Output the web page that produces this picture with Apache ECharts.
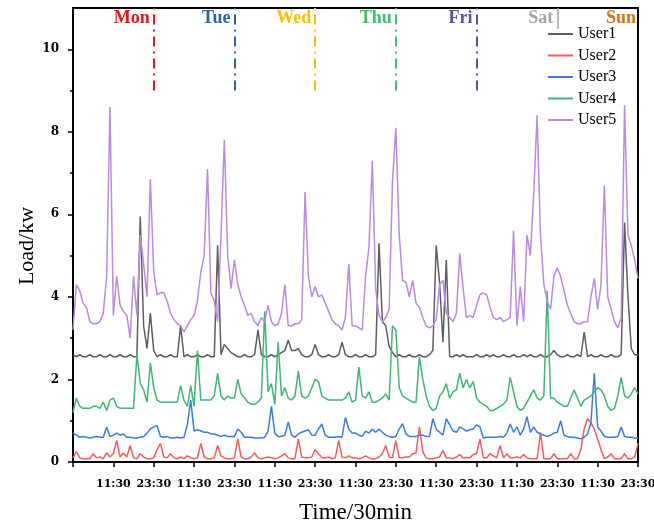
<!DOCTYPE html>
<html>
<head>
<meta charset="utf-8">
<script src="https://cdn.jsdelivr.net/npm/echarts@6/dist/echarts.min.js"></script>
<style>
  html, body { margin: 0; padding: 0; background: #fff; }
  #loadChart { width: 654px; height: 524px; }
</style>
</head>
<body>
<div id="loadChart"></div>
<script>
// hourly load in kW, index 0 = 23:30 the night before Monday, last = Sunday 23:30
const user1 = [2.6, 2.55, 2.6, 2.55, 2.55, 2.6, 2.55, 2.55, 2.6, 2.55, 2.55, 2.6, 2.55, 2.55, 2.6, 2.55, 2.55, 2.6, 2.55,
  2.55, 5.95, 3.3, 2.75, 3.6, 2.7,
  2.55, 2.6, 2.55, 2.55, 2.6, 2.55, 2.55,
  3.3,
  2.55, 2.6, 2.55, 2.55, 2.6, 2.55, 2.55, 2.6, 2.55, 2.55,
  5.25, 2.6, 2.85, 2.75, 2.65,
  2.6, 2.55, 2.55, 2.6, 2.55, 2.55, 2.6,
  3.2, 2.6,
  2.55, 2.55, 2.6, 2.55,
  2.6, 2.65, 2.7, 2.95, 2.7, 2.7, 2.75, 2.6,
  2.55, 2.55, 2.6, 2.85, 2.6,
  2.55, 2.55, 2.6, 2.55, 2.55, 2.6,
  2.9, 2.6,
  2.55, 2.55, 2.6, 2.55, 2.55, 2.6, 2.55, 2.55,
  2.6, 5.3, 3.4, 3.3, 2.8, 2.65,
  2.55, 2.6, 2.55, 2.55, 2.6, 2.55, 2.55, 2.6, 2.55, 2.55, 2.6,
  2.7, 5.25, 4.35, 2.9, 4.9,
  2.55, 2.55, 2.6, 2.55, 2.6, 2.55, 2.55, 2.55, 2.6, 2.55, 2.55, 2.6, 2.55, 2.6, 2.55, 2.55,
  2.6, 2.55, 2.55, 2.6, 2.55, 2.55, 2.6, 2.55, 2.6, 2.55, 2.55, 2.6, 2.55, 2.55, 2.6,
  2.7,
  2.6, 2.55, 2.55, 2.6, 2.55, 2.55, 2.6, 2.55,
  3.15,
  2.55, 2.6, 2.55, 2.55, 2.6, 2.55, 2.55, 2.6, 2.55, 2.55, 2.6,
  5.8, 4.05, 2.75, 2.6, 2.6]
const user2 = [0.1, 0.25, 0.1, 0.08, 0.08, 0.08, 0.2, 0.1, 0.12, 0.08, 0.22, 0.12, 0.2,
  0.52, 0.12, 0.22, 0.12, 0.4, 0.1, 0.08, 0.2, 0.12, 0.08, 0.08, 0.1,
  0.3, 0.45, 0.12, 0.1, 0.2, 0.1, 0.08, 0.12, 0.08, 0.15, 0.1, 0.08,
  0.1, 0.45, 0.12, 0.08, 0.08, 0.1, 0.4, 0.15, 0.1, 0.08, 0.08, 0.1,
  0.56, 0.12, 0.08, 0.08, 0.12, 0.22, 0.1, 0.08, 0.1, 0.12, 0.1, 0.08,
  0.1, 0.15, 0.2, 0.1, 0.08, 0.08, 0.56, 0.12, 0.1, 0.1, 0.12, 0.3,
  0.2, 0.1, 0.1, 0.12, 0.08, 0.1, 0.52, 0.12, 0.1, 0.15, 0.1, 0.1,
  0.08, 0.1, 0.15, 0.1, 0.08, 0.08, 0.12, 0.2, 0.4, 0.12, 0.1, 0.52,
  0.1, 0.1, 0.12, 0.12, 0.2, 0.22, 0.85, 0.25, 0.1, 0.08, 0.08, 0.1,
  0.12, 0.28, 0.1, 0.1, 0.08, 0.12, 0.18, 0.1, 0.1, 0.1, 0.18, 0.2,
  0.56, 0.1, 0.1, 0.2, 0.15, 0.1, 0.4, 0.1, 0.2, 0.1, 0.1, 0.12,
  0.1, 0.18, 0.1, 0.08, 0.08, 0.08, 0.72, 0.08, 0.08, 0.08, 0.2, 0.08,
  0.08, 0.08, 0.08, 0.2, 0.08, 0.08, 0.3, 0.8, 1.05, 0.95, 0.8, 0.55,
  0.3, 0.08, 0.12, 0.2, 0.08, 0.08, 0.08, 0.2, 0.08, 0.08, 0.12, 0.45]
const user3 = [0.7, 0.65, 0.6, 0.62, 0.6, 0.58, 0.6, 0.62, 0.6, 0.6, 0.85, 0.62, 0.65,
  0.7, 0.65, 0.68, 0.6, 0.6, 0.58, 0.58, 0.6, 0.62, 0.7, 0.8, 0.85,
  0.88, 0.62, 0.6, 0.62, 0.58, 0.58, 0.6, 0.58, 0.6, 0.9, 1.5, 0.75,
  0.78, 0.75, 0.72, 0.72, 0.68, 0.68, 0.65, 0.62, 0.65, 0.62, 0.62, 0.62,
  0.8, 0.72, 0.6, 0.6, 0.6, 0.58, 0.58, 0.58, 0.6, 0.75, 1.35, 0.7,
  0.62, 0.62, 0.65, 0.97, 0.65, 0.6, 0.68, 0.72, 0.75, 0.78, 0.65, 0.65,
  0.8, 0.92, 0.65, 0.6, 0.6, 0.6, 0.62, 0.6, 1.08, 0.8, 0.7, 0.7,
  0.65, 0.62, 0.75, 0.7, 0.8, 0.72, 0.8, 0.72, 0.65, 0.62, 0.6, 0.62,
  0.8, 0.93, 0.68, 0.62, 0.62, 0.62, 0.65, 0.65, 0.62, 0.62, 1.05, 0.8,
  0.72, 0.65, 1.05, 0.9, 0.75, 0.72, 0.85, 0.8, 0.75, 0.78, 0.8, 0.9,
  0.85, 0.58, 0.6, 0.6, 0.6, 0.6, 0.62, 0.6, 0.7, 0.92, 0.72, 0.85,
  0.65, 0.8, 1.1, 0.72, 0.85, 0.72, 0.68, 0.65, 0.62, 0.65, 0.7, 0.72,
  1.0, 0.65, 0.62, 0.6, 0.6, 0.58, 0.56, 0.6, 0.68, 0.95, 2.15, 0.85,
  0.75, 0.62, 0.6, 0.6, 0.6, 0.62, 0.85, 0.62, 0.6, 0.6, 0.58, 0.58]
const user4 = [1.2, 1.55, 1.35, 1.3, 1.3, 1.3, 1.35, 1.35, 1.3, 1.45, 1.25, 1.5, 1.55,
  1.35, 1.3, 1.3, 1.3, 1.3, 1.3, 2.6, 1.9, 1.75, 1.45, 2.4, 1.8,
  1.5, 1.45, 1.45, 1.45, 1.45, 1.45, 1.45, 1.85, 1.5, 1.35, 1.85, 1.35,
  2.7, 1.5, 1.5, 1.5, 1.5, 1.6, 2.15, 1.6, 1.5, 1.6, 1.55, 1.55,
  2.0, 1.65, 1.55, 1.45, 1.4, 1.4, 1.45, 1.55, 3.65, 1.7, 1.9, 1.4,
  2.9, 1.6, 1.8, 1.55, 1.5, 1.6, 2.2, 1.6, 1.55, 1.6, 1.8, 2.0,
  1.95, 1.6, 1.55, 1.5, 1.5, 1.5, 1.5, 1.5, 1.55, 1.7, 1.45, 1.5,
  2.3, 1.6, 1.55, 1.7, 1.45, 1.45, 1.5, 1.55, 1.65, 1.5, 3.3, 3.2,
  1.8, 1.6, 1.55, 1.5, 1.45, 1.45, 2.55, 2.0, 1.6, 1.35, 1.25, 1.3,
  1.6, 1.7, 1.9, 1.55, 1.7, 1.75, 2.15, 1.8, 2.0, 1.8, 1.95, 1.55,
  1.45, 1.4, 1.35, 1.25, 1.25, 1.3, 1.35, 1.4, 1.5, 2.05, 1.7, 1.35,
  1.25, 1.3, 1.45, 1.6, 1.75, 1.55, 1.5, 1.6, 4.15, 1.55, 1.55, 1.45,
  1.4, 1.35, 1.35, 1.55, 1.75, 1.55, 1.35, 1.5, 1.55, 1.6, 1.7, 1.8,
  1.75, 1.6, 1.35, 1.25, 1.3, 1.6, 2.05, 1.6, 1.55, 1.65, 1.8, 1.65]
const user5 = [3.2, 4.3, 4.15, 3.85, 3.75, 3.4, 3.35, 3.35, 3.4, 3.6, 4.5, 8.6, 3.55,
  4.5, 3.8, 3.65, 3.55, 3.0, 4.5, 3.55, 5.5, 4.8, 4.0, 6.85, 4.6,
  4.05, 4.1, 4.1, 3.9, 3.6, 3.45, 3.35, 3.3, 3.15, 3.3, 3.45, 3.55,
  3.9, 4.6, 5.0, 7.1, 4.1, 3.9, 3.4, 5.5, 7.8, 5.0, 4.2, 4.9,
  4.3, 4.0, 3.8, 3.55, 3.6, 3.4, 3.3, 3.5, 3.4, 3.8, 3.4, 3.3,
  3.35, 3.6, 4.3, 3.3, 3.3, 3.35, 3.35, 3.45, 6.55, 4.5, 4.0, 4.25,
  4.0, 4.05, 3.85, 3.65, 3.45, 3.35, 3.3, 3.2, 3.5, 4.8, 3.3, 3.3,
  3.25, 3.2, 4.5, 5.2, 7.3, 4.2, 3.55, 3.4, 3.5, 3.7, 6.8, 8.1,
  5.5, 4.4, 4.35, 4.0, 4.4, 3.85, 3.75, 3.5, 3.3, 3.25, 3.3, 3.45,
  4.3, 4.4, 3.6, 3.5, 3.4, 3.6, 5.05, 4.2, 3.5, 3.55, 3.5, 3.8,
  4.05, 4.1, 4.05, 3.75, 3.5, 3.45, 3.5, 3.4, 3.45, 3.5, 5.6, 3.3,
  4.25, 3.4, 5.5, 5.0, 6.5, 8.4, 5.5, 4.3, 3.9, 3.7, 4.5, 4.7,
  4.5, 4.15, 3.8, 3.6, 3.4, 3.35, 3.35, 3.4, 3.4, 4.0, 4.45, 3.7,
  4.3, 6.7, 4.0, 3.7, 3.4, 3.25, 3.5, 8.65, 5.5, 5.25, 4.9, 4.45]

const userNames = ['User1', 'User2', 'User3', 'User4', 'User5']
const yMajorTicks = [0, 2, 4, 6, 8, 10]
const yMinorTicks = [1, 3, 5, 7, 9]
const dayNames = ['Mon', 'Tue', 'Wed', 'Thu', 'Fri', 'Sat', 'Sun']
const dayEndHours = [24, 48, 72, 96, 120, 144, 168]

const loads = [user1, user2, user3, user4, user5]
const colors = ['#5e5e5e', '#ff5a5a', '#3a7cec', '#3fb874', '#bb8ae6']
const dayColors = ['#f01414', '#2f62a6', '#ffbf00', '#3cc26c', '#55559e', '#a6a6a6', '#e5700e']
const serif = '"Liberation Serif", "Times New Roman", serif'
const tickFont = '"DejaVu Serif", serif'

var myChart = echarts.init(document.getElementById('loadChart'))

// dash-dot day separators Mon..Fri, a short solid one for Sat, none for Sun (right border)
let dayLines = []
let dayLabels = []
dayNames.forEach((d, i) => {
  const h = dayEndHours[i]
  if (i < 5) {
    dayLines.push([
      { coord: [h, 9], lineStyle: { color: dayColors[i], type: [10, 5, 2, 5], width: 2 } },
      { coord: [h, 11] }
    ])
  } else if (i === 5) {
    dayLines.push([
      { coord: [h, 10.5], lineStyle: { color: dayColors[i], type: 'solid', width: 1.5 } },
      { coord: [h, 11] }
    ])
  }
  dayLabels.push({
    coord: [h, 10.76],
    symbol: 'circle',
    symbolSize: 0,
    label: {
      show: true,
      formatter: d,
      position: 'left',
      distance: i === 6 ? 2 : 4,
      color: dayColors[i],
      fontFamily: serif,
      fontWeight: 'bold',
      fontSize: 18
    }
  })
})

const series = userNames.map((name, k) => {
  let s = {
    name: name,
    type: 'line',
    data: loads[k].map((v, i) => [i, v]),
    symbol: 'none',
    lineStyle: { width: 1.5, color: colors[k] },
    itemStyle: { color: colors[k] },
    animation: false
  }
  if (k === 0) {
    s.markLine = { silent: true, symbol: ['none', 'none'], label: { show: false }, data: dayLines, animation: false }
    s.markPoint = { silent: true, data: dayLabels, animation: false }
  }
  return s
})

myChart.setOption({
  animation: false,
  grid: {
    left: 73,
    right: 16,
    top: 8,
    bottom: 62,
    show: true,
    borderColor: '#000',
    borderWidth: 2,
    outerBoundsMode: 'none'
  },
  legend: {
    data: userNames,
    orient: 'vertical',
    left: 548,
    top: 26,
    padding: 0,
    icon: 'path://M0,0 L25,0 L25,2 L0,2 Z',
    itemWidth: 25,
    itemHeight: 12,
    itemGap: 5.5,
    textStyle: { fontFamily: serif, fontSize: 16, color: '#000' }
  },
  xAxis: {
    type: 'value',
    min: 0,
    max: 168,
    interval: 12,
    axisLine: { lineStyle: { color: '#000', width: 2 } },
    axisTick: { length: 5, lineStyle: { color: '#000', width: 1.5 } },
    splitLine: { show: false },
    axisLabel: {
      formatter: v => v === 0 ? '' : ((v / 12) % 2 === 1 ? '11:30' : '23:30'),
      fontFamily: tickFont,
      fontWeight: 'bold',
      fontSize: 11,
      color: '#000',
      margin: 17
    },
    name: 'Time/30min',
    nameLocation: 'middle',
    nameGap: 39,
    nameTextStyle: { fontFamily: serif, fontSize: 23, color: '#000' }
  },
  yAxis: [
    {
      type: 'value',
      min: 0,
      max: 11,
      axisLine: { show: true, lineStyle: { color: '#000', width: 2 } },
      axisTick: { show: true, customValues: yMajorTicks, length: 5, lineStyle: { color: '#000', width: 1.5 } },
      axisLabel: {
        customValues: yMajorTicks,
        fontFamily: tickFont,
        fontWeight: 'bold',
        fontSize: 12,
        color: '#000',
        margin: 14
      },
      splitLine: { show: false },
      name: 'Load/kw',
      nameLocation: 'middle',
      nameGap: 35,
      nameMoveOverlap: false,
      nameTextStyle: { fontFamily: serif, fontSize: 22, color: '#000', padding: [0, 22, 0, 0] }
    },
    {
      type: 'value',
      min: 0,
      max: 11,
      position: 'left',
      axisLine: { show: false },
      axisTick: { show: true, customValues: yMinorTicks, length: 3, lineStyle: { color: '#000', width: 1.5 } },
      axisLabel: { show: false },
      splitLine: { show: false }
    }
  ],
  series: series
})
</script>
</body>
</html>
